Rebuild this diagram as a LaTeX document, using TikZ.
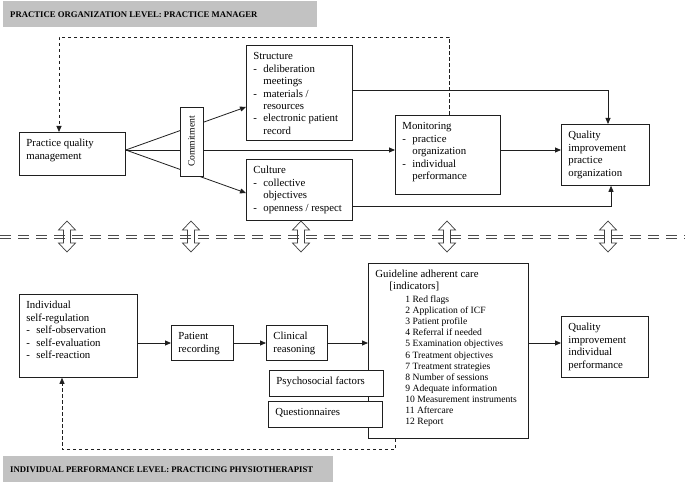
\documentclass[tikz,border=0pt]{standalone}
\usepackage{fontspec}
\setmainfont{Liberation Serif}
\usetikzlibrary{arrows.meta,calc}
\definecolor{barfill}{gray}{0.76}
\definecolor{ink}{gray}{0.12}
\newcommand\dl{\makebox[10pt][l]{-}}
\newcommand\ind{\hspace*{10pt}}
\newcommand\bx[6]{%
  \pgfmathsetmacro\bw{#4-#2-14}%
  \pgfmathsetmacro\bh{#5-#3-13}%
  \node[box,anchor=north west] (#1) at (#2,#3)
    {\parbox[c][\bh pt][t]{\bw pt}{\raggedright\fontsize{10.8}{12.4}\selectfont\rule{0pt}{8pt}#6}};}
\begin{document}
\begin{tikzpicture}[x=1pt,y=-1pt,
  box/.style={draw=ink,line width=0.8pt,fill=white,inner xsep=7pt,inner ysep=6.5pt},
  arr/.style={draw=ink,line width=0.8pt,-{Triangle[length=6pt,width=5pt]}},
  conn/.style={draw=ink,line width=0.8pt},
  dsh/.style={dash pattern=on 3.5pt off 2.5pt},
  bar/.style={fill=barfill,draw=none,inner sep=0pt,anchor=north west},
  bartext/.style={font=\fontsize{8.7}{10}\selectfont\bfseries,anchor=west,inner sep=0pt},
  dline/.style={draw=black!70,line width=0.9pt,dash pattern=on 11pt off 7pt},
  dblarrow/.style={draw=black!75,line width=0.7pt}]
\useasboundingbox (0,0) rectangle (685,484);
\fill[white] (0,0) rectangle (685,484);

% level bars
\node[bar,minimum width=314pt,minimum height=26pt] (topbar) at (3,1) {};
\node[bartext] (toplabel) at ($(topbar.west)+(7,0)$) {PRACTICE ORGANIZATION LEVEL: PRACTICE MANAGER};
\node[bar,minimum width=330pt,minimum height=26pt] (botbar) at (3,456) {};
\node[bartext] (botlabel) at ($(botbar.west)+(7,0)$) {INDIVIDUAL PERFORMANCE LEVEL: PRACTICING PHYSIOTHERAPIST};

% upper boxes
\bx{pqm}{19}{132}{125}{175}{Practice quality\\management}
\bx{structure}{246}{45}{352}{140}{Structure\\\dl deliberation\\\ind meetings\\\dl materials /\\\ind resources\\\dl electronic patient\\\ind record}
\bx{culture}{246}{159}{352}{220}{Culture\\\dl collective\\\ind objectives\\\dl openness / respect}
\bx{monitoring}{395}{115}{500}{194}{Monitoring\\\dl practice\\\ind organization\\\dl individual\\\ind performance}
\bx{qipo}{561}{124}{649}{185}{Quality\\improvement\\practice\\organization}

\coordinate (o) at ($(pqm.north east)+(0,18)$);
\draw[arr] (o) -- ($(structure.north west)+(0,62)$);
\draw[arr] (o) -- ($(culture.north west)+(0,34)$);
\draw[arr] (o) -- (o -| monitoring.west);
\draw[arr] (o -| monitoring.east) -- (o -| qipo.west);
\draw[arr] ($(structure.north east)+(0,45)$) -| ($(qipo.north west)+(47,0)$);
\draw[arr] ($(culture.north east)+(0,47)$) -| ($(qipo.south west)+(50,0)$);
\draw[arr,dsh] ($(monitoring.north west)+(54,0)$) -- ++(0,-78) -| ($(pqm.north west)+(40,0)$);

\node[box,rotate=90,minimum width=69pt,minimum height=23pt,inner sep=0pt,font=\fontsize{9.6}{11}\selectfont] (commit) at (191.5,141.5) {Commitment};

% separator
\draw[dline] (0,235.6) -- (685,235.6);
\draw[dline] (0,238.6) -- (685,238.6);
\foreach \c/\n in {67/a1,191/a2,301/a3,447/a4,608/a5}{
  \draw[dblarrow] (\c,221) -- (\c+8.5,230) -- (\c+3.5,230) -- (\c+3.5,243) -- (\c+8.5,243) -- (\c,252)
    -- (\c-8.5,243) -- (\c-3.5,243) -- (\c-3.5,230) -- (\c-8.5,230) -- cycle;
}

% lower boxes
\bx{isr}{19}{294}{137}{377}{Individual\\self-regulation\\\dl self-observation\\\dl self-evaluation\\\dl self-reaction}
\bx{pr}{171}{325}{233}{360}{Patient\\recording}
\bx{cr}{266}{325}{327}{360}{Clinical\\reasoning}
\pgfmathsetmacro\gw{528-368-14}
\pgfmathsetmacro\gh{438-263-13}
\node[box,anchor=north west] (guide) at (368,263) {\parbox[c][\gh pt][t]{\gw pt}{\raggedright
  {\fontsize{10.8}{12}\selectfont\rule{0pt}{8pt}Guideline adherent care\\\hspace*{14pt}[indicators]\par}
  \vspace{1.2pt}
  {\fontsize{9.6}{11.15}\selectfont\leftskip=30pt
  1 Red flags\\
  2 Application of ICF\\
  3 Patient profile\\
  4 Referral if needed\\
  5 Examination objectives\\
  6 Treatment objectives\\
  7 Treatment strategies\\
  8 Number of sessions\\
  9 Adequate information\\
  10 Measurement instruments\\
  11 Aftercare\\
  12 Report\par}}};
\bx{psy}{269}{370}{383}{396}{Psychosocial factors}
\bx{quest}{268}{401}{382}{427}{Questionnaires}
\bx{qiip}{561}{316}{648}{377}{Quality\\improvement\\individual\\performance}

\coordinate (b) at ($(isr.north east)+(0,49)$);
\draw[arr] (b) -- (b -| pr.west);
\draw[arr] (b -| pr.east) -- (b -| cr.west);
\draw[arr] (b -| cr.east) -- (b -| guide.west);
\draw[arr] (b -| guide.east) -- (b -| qiip.west);
\draw[arr,dsh] ($(guide.south west)+(27,0)$) -- ++(0,11) -| ($(isr.south west)+(43,0)$);
\end{tikzpicture}
\end{document}
